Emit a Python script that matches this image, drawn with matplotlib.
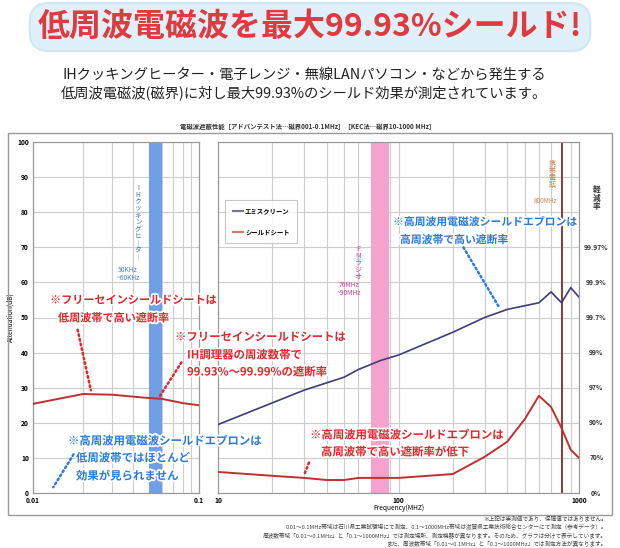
import matplotlib
matplotlib.use("Agg")
import matplotlib.pyplot as plt
import matplotlib.patheffects as pe
from matplotlib.patches import Rectangle
from matplotlib.lines import Line2D
from matplotlib.ticker import NullFormatter

plt.rcParams['font.family'] = ['Noto Sans CJK JP', 'DejaVu Sans']

# ---- data ----
left_freq = [0.01, 0.02, 0.03, 0.046, 0.06, 0.08, 0.1]
left_sheet = [25.4, 28.2, 28.0, 27.2, 26.8, 25.6, 25.0]

emi_freq = [10, 30, 50, 60, 80, 100, 200, 300, 400, 600, 700, 800, 900, 1000]
emi_vals = [19.5, 29.3, 33.0, 35.2, 37.8, 39.3, 45.8, 50.0, 52.3, 54.2, 57.3, 54.2, 58.5, 55.8]

sheet_freq = [10, 20, 30, 40, 50, 60, 100, 200, 300, 400, 500, 600, 700, 800, 900, 1000]
sheet_vals = [6.0, 4.9, 4.3, 3.7, 3.7, 4.3, 4.3, 5.4, 10.3, 14.6, 21.0, 27.7, 24.5, 18.5, 12.3, 10.0]

ih_band = [0.05, 0.06]
fm_band = [70, 89]
mobile_freq = 800

right_ticks = [0, 10, 20, 30, 40, 50, 60, 70]
right_labels = ['0%', '70%', '90%', '97%', '99%', '99.7%', '99.9%', '99.97%']

W, H = 620, 548
fig = plt.figure(figsize=(6.2, 5.48), dpi=100)


def fx(x):
    return x / W


def fy(y):
    return 1 - y / H


RED = '#e3262b'
BLUE = '#2a7bdc'
LINE_RED = '#c0302e'
LINE_BLUE = '#3d3d7d'
GRID = '#cccccc'

# banner
fig.text(fx(310), fy(27), '低周波電磁波を最大99.93%シールド!', ha='center', va='center',
         fontsize=23, fontweight='bold', color='#e0393e',
         bbox=dict(boxstyle='round,pad=0.25,rounding_size=0.6', fc='#dff0fa', ec='#cfe7f5', lw=1.5))
fig.text(fx(304), fy(75), 'IHクッキングヒーター・電子レンジ・無線LANパソコン・などから発生する',
         ha='center', va='center', fontsize=10.3, color='#222222')
fig.text(fx(304), fy(93), '低周波電磁波(磁界)に対し最大99.93%のシールド効果が測定されています。',
         ha='center', va='center', fontsize=10.3, color='#222222')

# chart frame
fig.patches.append(Rectangle((fx(8), fy(515)), fx(604), 382 / H, transform=fig.transFigure,
                             fill=False, ec='#999999', lw=1))
fig.text(fx(308), fy(127), '電磁波遮蔽性能［アドバンテスト法…磁界001-0.1MHz］［KEC法…磁界10-1000 MHz］',
         ha='center', va='center', fontsize=4.6, fontweight='bold', color='#333333')

ax_l = fig.add_axes([fx(33), fy(493), fx(166), 351 / H])
ax_r = fig.add_axes([fx(218), fy(493), fx(361), 351 / H])

for ax in (ax_l, ax_r):
    ax.set_xscale('log')
    ax.set_ylim(0, 100)
    ax.set_yticks(range(0, 101, 10))
    ax.xaxis.set_minor_formatter(NullFormatter())
    ax.grid(True, which='both', axis='x', color=GRID, lw=0.8)
    ax.grid(True, which='major', axis='y', color=GRID, lw=0.8)
    ax.set_axisbelow(True)
    for s in ax.spines.values():
        s.set_color('#9a9a9a')
        s.set_linewidth(0.9)
    ax.tick_params(which='both', length=0, labelsize=4.8, pad=3)

ax_r.set_yticklabels([])

# left panel
ax_l.set_xlim(0.01, 0.1)
ax_l.set_xticks([0.01, 0.1])
ax_l.set_xticklabels(['0.01', '0.1'], fontweight='bold')
ax_l.set_yticklabels([str(v) for v in range(0, 101, 10)], fontweight='bold')
ax_l.set_ylabel('Attenuation(dB)', fontsize=4.8, labelpad=2)
ax_l.axvspan(ih_band[0], ih_band[1], color='#6fa0e6', zorder=1, lw=0)
ax_l.plot(left_freq, left_sheet, color=LINE_RED, lw=1.4, zorder=3)

# right panel
ax_r.set_xlim(10, 1000)
ax_r.set_xticks([10, 100, 1000])
ax_r.set_xticklabels(['10', '100', '1000'], fontweight='bold')
ax_r.set_xlabel('Frequency(MHZ)', fontsize=4.8, labelpad=0)
ax_r.axvspan(fm_band[0], fm_band[1], color='#f6a2cf', zorder=1, lw=0)
ax_r.axvline(mobile_freq, color='#8e3b34', lw=1.4, zorder=2)
ax_r.plot(emi_freq, emi_vals, color=LINE_BLUE, lw=1.2, zorder=3)
ax_r.plot(sheet_freq, sheet_vals, color=LINE_RED, lw=1.4, zorder=3)

leg = ax_r.legend(handles=[Line2D([], [], color='#7575a2', lw=1.5),
                           Line2D([], [], color='#d47565', lw=1.5)],
                  labels=['エミスクリーン', 'シールドシート'],
                  loc='upper left', bbox_to_anchor=(0.011, 0.845), fontsize=4.6,
                  frameon=True, fancybox=False, edgecolor='#bbbbbb', borderpad=1.2,
                  handlelength=1.6, handletextpad=0.3, labelspacing=2.2)
leg.get_frame().set_linewidth(0.8)
for t in leg.get_texts():
    t.set_fontweight('bold')

# right axis labels
blend = ax_r.get_yaxis_transform()
for v, lab in zip(right_ticks, right_labels):
    ax_r.text(1.048, v, lab, transform=blend, ha='center', va='center',
              fontsize=4.8, fontweight='bold', color='#333333')
ax_r.text(1.048, 84, '軽\n減\n率', transform=blend, ha='center', va='center',
          fontsize=5.5, fontweight='bold', linespacing=0.95, color='#333333')


def vtext(x, y, s, size, color):
    s = s.replace('ー', '｜')
    fig.text(fx(x), fy(y), '\n'.join(s), ha='center', va='top', fontsize=size,
             color=color, linespacing=0.82)


vtext(138, 184, 'IHクッキングヒーター', 4.8, '#3f6fb8')
fig.text(fx(128), fy(274), '50KHz\n~60KHz', ha='center', va='center', fontsize=4.8,
         color='#4a7fd0', linespacing=1.1)
vtext(358, 245, 'FMラジオ', 5.0, '#d63d97')
fig.text(fx(349), fy(289), '76MHz\n~90MHz', ha='center', va='center', fontsize=4.8,
         color='#d63d97', linespacing=1.1)
vtext(552, 160, '携帯電話', 5.0, '#d0804f')
fig.text(fx(545), fy(201), '800MHz', ha='center', va='center', fontsize=4.6, color='#d0804f')

stroke = [pe.withStroke(linewidth=2.5, foreground='white')]


def note(lines, color, size):
    for x, y, s in lines:
        fig.text(fx(x), fy(y), s, ha='left', va='center', fontsize=size, fontweight='bold',
                 color=color, path_effects=stroke, zorder=10)


def pointer(ax, xy, start, color):
    ax.annotate('', xy=xy, xycoords='data', xytext=(fx(start[0]), fy(start[1])),
                textcoords='figure fraction', annotation_clip=False,
                arrowprops=dict(arrowstyle='-', color=color, lw=1.8, ls=(0, (0.7, 1.2))),
                zorder=9)


pointer(ax_l, (0.0225, 28.5), (77, 327), RED)
pointer(ax_l, (0.057, 27.0), (183, 360), RED)
pointer(ax_l, (0.013, 1.0), (75, 452), BLUE)
pointer(ax_r, (370, 52.0), (462, 245), BLUE)
pointer(ax_r, (29.7, 4.6), (310, 460), RED)

note([(50, 300, '※フリーセインシールドシートは'), (58, 318, '低周波帯で高い遮断率')], RED, 8)
note([(175, 337, '※フリーセインシールドシートは'), (187, 355, 'IH調理器の周波数帯で'),
      (187, 372, '99.93%～99.99%の遮断率')], RED, 8.2)
note([(68, 441, '※高周波用電磁波シールドエプロンは'), (76, 458, '低周波帯ではほとんど'),
      (76, 476, '効果が見られません')], BLUE, 8.2)
note([(393, 222, '※高周波用電磁波シールドエプロンは'), (400, 240, '高周波帯で高い遮断率')], BLUE, 7.8)
note([(310, 435, '※高周波用電磁波シールドエプロンは'), (321, 452, '高周波帯で高い遮断率が低下')], RED, 8.2)

foot = ['※上記は実測値であり、保障値ではありません。',
        '0.01～0.1MHz帯域は石川県工業試験場にて測定、0.1～1000MHz帯域は滋賀県工業技術総合センターにて測定（参考データ）。',
        '周波数帯域「0.01～0.1MHz」と「0.1～1000MHz」では測定場所、測定機器が異なります。そのため、グラフは分けて表示しています。',
        'また、周波数帯域「0.01～0.1MHz」と「0.1～1000MHz」では測定方法が異なります。']
for i, s in enumerate(foot):
    fig.text(fx(607), fy(519 + 8.5 * i), s, ha='right', va='center', fontsize=4.1, color='#444444')

fig.savefig('out.png', dpi=100)
